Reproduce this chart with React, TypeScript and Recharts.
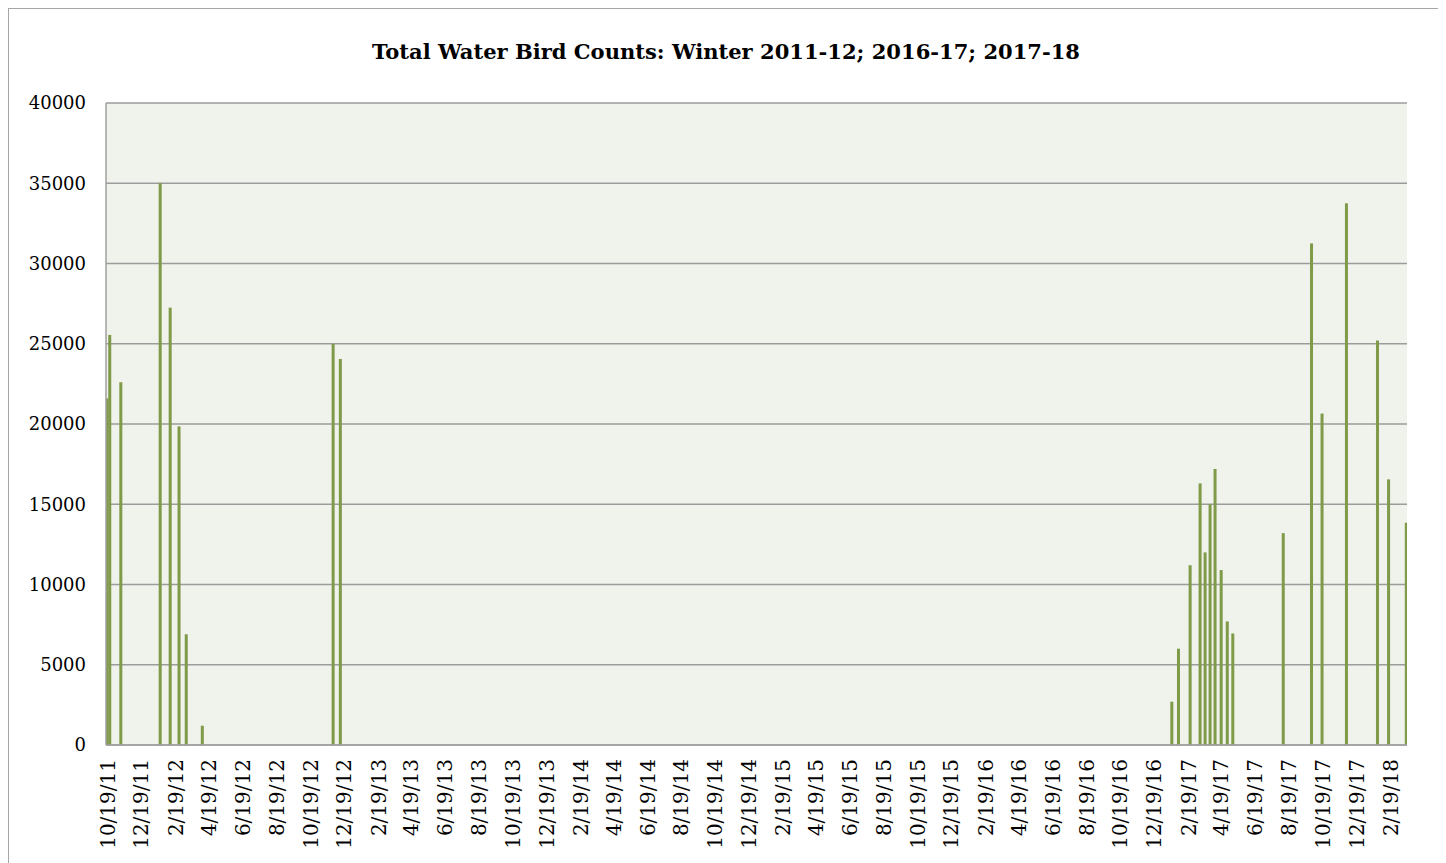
import React from 'react';
import { BarChart, Bar, XAxis, YAxis, CartesianGrid } from 'recharts';

const countDates = [
  '10/18/11', '10/23/11', '11/12/11', '1/22/12', '2/9/12', '2/25/12', '3/9/12', '4/7/12',
  '11/29/12', '12/12/12',
  '1/20/17', '2/1/17', '2/22/17', '3/12/17', '3/21/17', '3/30/17', '4/8/17', '4/19/17', '4/30/17', '5/10/17',
  '8/9/17', '9/29/17', '10/18/17', '12/1/17', '1/26/18', '2/15/18', '3/19/18',
];
const birdCounts = [
  21600, 25550, 22600, 35000, 27250, 19850, 6900, 1200,
  25000, 24050,
  2700, 6000, 11200, 16300, 12000, 15000, 17200, 10900, 7700, 6950,
  13200, 31250, 20650, 33750, 25200, 16550, 13850,
];
const tickLabels = [
  '10/19/11', '12/19/11', '2/19/12', '4/19/12', '6/19/12', '8/19/12', '10/19/12', '12/19/12',
  '2/19/13', '4/19/13', '6/19/13', '8/19/13', '10/19/13', '12/19/13',
  '2/19/14', '4/19/14', '6/19/14', '8/19/14', '10/19/14', '12/19/14',
  '2/19/15', '4/19/15', '6/19/15', '8/19/15', '10/19/15', '12/19/15',
  '2/19/16', '4/19/16', '6/19/16', '8/19/16', '10/19/16', '12/19/16',
  '2/19/17', '4/19/17', '6/19/17', '8/19/17', '10/19/17', '12/19/17',
  '2/19/18',
];
const yTicks = [0, 5000, 10000, 15000, 20000, 25000, 30000, 35000, 40000];
const axisStart = '10/16/11';
const axisEnd = '3/20/18';
const title = 'Total Water Bird Counts: Winter 2011-12; 2016-17; 2017-18';

const toDay = (s: string) => {
  const [m, d, y] = s.split('/').map(Number);
  return Math.round((Date.UTC(2000 + y, m - 1, d) - Date.UTC(2011, 9, 19)) / 86400000);
};

const data = countDates.map((d, i) => ({ day: toDay(d), count: birdCounts[i] }));
const tickDays = tickLabels.map(toDay);
const labelByDay: Record<number, string> = {};
tickLabels.forEach((l) => { labelByDay[toDay(l)] = l; });

const FONT = 'DejaVu Serif';
const BAR_COLOR = '#7F9A48';

const XTick = (props: any) => {
  const { x, y, payload } = props;
  return (
    <text
      x={x}
      y={y}
      transform={`rotate(-90 ${x} ${y})`}
      textAnchor="end"
      dominantBaseline="central"
      fontSize={20}
      fontFamily={FONT}
      fill="#000"
    >
      {labelByDay[payload.value]}
    </text>
  );
};

const ThinBar = (props: any) => {
  const { x, y, width, height } = props;
  if (!height || height <= 0) return null;
  const w = 3;
  return <rect x={x + width / 2 - w / 2} y={y} width={w} height={height} fill={BAR_COLOR} />;
};

export default function App() {
  return (
    <div
      style={{
        position: 'relative',
        width: 1434,
        height: 862,
        border: '1px solid #a6a6a6',
        background: '#fff',
        boxSizing: 'border-box',
      }}
    >
      <svg style={{ position: 'absolute', left: 0, top: 0 }} width={1432} height={100}>
        <text
          x={717}
          y={50}
          textAnchor="middle"
          fontWeight="bold"
          fontSize={21}
          fontFamily={FONT}
          fill="#000"
          textLength={708}
          lengthAdjust="spacingAndGlyphs"
        >
          {title}
        </text>
      </svg>
      <BarChart
        width={1432}
        height={860}
        data={data}
        margin={{ top: 94, right: 34, left: 0, bottom: 0 }}
      >
        <CartesianGrid vertical={false} stroke="#9c9c9c" strokeWidth={1.6} fill="#F0F3EC" />
        <XAxis
          dataKey="day"
          type="number"
          domain={[toDay(axisStart), toDay(axisEnd)]}
          allowDataOverflow
          ticks={tickDays}
          interval={0}
          tickLine={false}
          tickSize={0}
          tickMargin={14}
          height={124}
          axisLine={{ stroke: '#a0a0a0', strokeWidth: 1.5 }}
          tick={<XTick />}
        />
        <YAxis
          type="number"
          domain={[0, 40000]}
          ticks={yTicks}
          interval={0}
          width={97}
          tickLine={false}
          tickSize={0}
          tickMargin={20}
          axisLine={{ stroke: '#a0a0a0', strokeWidth: 1.5 }}
          tick={{ fontSize: 18, fontFamily: FONT, fill: '#000' }}
        />
        <Bar dataKey="count" fill={BAR_COLOR} barSize={3} shape={<ThinBar />} isAnimationActive={false} />
      </BarChart>
    </div>
  );
}
